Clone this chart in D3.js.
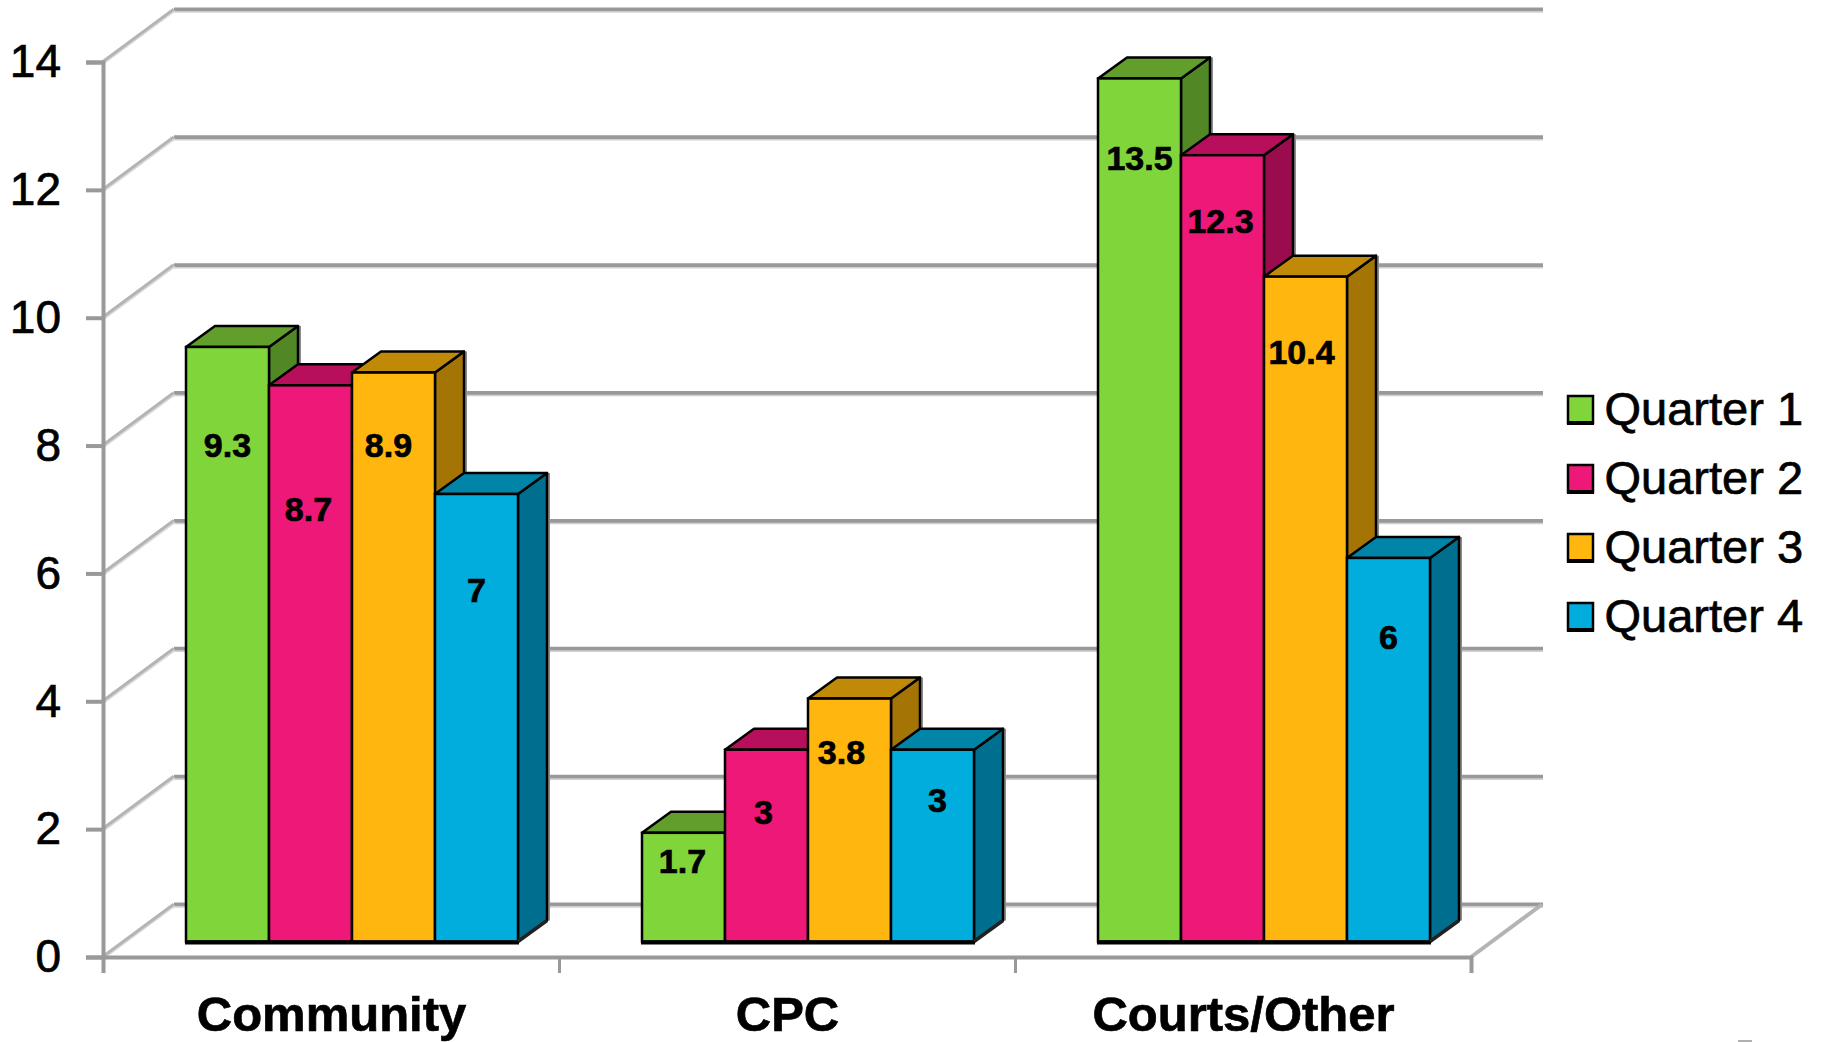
<!DOCTYPE html>
<html><head><meta charset="utf-8">
<script src="https://cdn.jsdelivr.net/npm/d3@7/dist/d3.min.js"></script>
<style>html,body{margin:0;padding:0;background:#fff;overflow:hidden}svg{display:block}
text{font-family:"Liberation Sans",Arial,sans-serif;fill:#000;stroke:#000;stroke-width:0.7px}</style></head>
<body><svg id="c" width="1822" height="1042"></svg>
<script>
const categories = ["Community", "CPC", "Courts/Other"];
const seriesNames = ["Quarter 1", "Quarter 2", "Quarter 3", "Quarter 4"];
const quarter1 = [9.3, 1.7, 13.5];
const quarter2 = [8.7, 3, 12.3];
const quarter3 = [8.9, 3.8, 10.4];
const quarter4 = [7, 3, 6];
const seriesValues = [quarter1, quarter2, quarter3, quarter4];
const yTicks = [0, 2, 4, 6, 8, 10, 12, 14];

const frontColors = ["#80D53B", "#ED1877", "#FFB70F", "#00ADDC"];
const topColors = ["#619E2C", "#B80F5C", "#C08A08", "#0085A8"];
const sideColors = ["#518825", "#9A0C4D", "#A47404", "#006E8E"];
// label placement below each bar's top, as in the picture (per series, per category)
const labelDrop = [[99, 29, 81], [125, 63, 67], [73, 54, 76], [97, 51, 80]];
const labelShift = [[0, -1, 0], [-2, -3, -2], [-5, -8, -4], [0, 5, 0]];

const svg = d3.select("#c");
const GRID = "#999999";
const wall = {dx: 71, dy: -52.5};
const bar3d = {dx: 29, dy: -21};
const floorLift = 15.5;

const y = d3.scaleLinear().domain([0, 14]).range([957, 62]);
const xEdge = d3.scaleLinear().domain([0, 3]).range([103, 1471]);
const x0 = d3.scaleBand().domain(categories).range([103, 1471]);
const x1 = d3.scaleBand().domain(seriesNames).range([62, 62 + 332]);
const barBase = y(0) - floorLift;
const hOf = v => y(0) - y(v);
const barShift = 21;

// back wall gridlines and side-wall diagonals
const grid = svg.append("g");
grid.selectAll("line.back").data(yTicks).join("line").attr("class", "back")
  .attr("x1", 103 + wall.dx).attr("x2", 1472 + wall.dx)
  .attr("y1", d => y(d) + wall.dy).attr("y2", d => y(d) + wall.dy)
  .attr("stroke", GRID).attr("stroke-width", 4);
grid.selectAll("line.backsh").data(yTicks).join("line").attr("class", "backsh")
  .attr("x1", 103 + wall.dx).attr("x2", 1472 + wall.dx)
  .attr("y1", d => y(d) + wall.dy + 2.5).attr("y2", d => y(d) + wall.dy + 2.5)
  .attr("stroke", "#d0d0d0").attr("stroke-width", 1.5);
grid.selectAll("line.diag").data(yTicks).join("line").attr("class", "diag")
  .attr("x1", 103).attr("x2", 103 + wall.dx)
  .attr("y1", d => y(d)).attr("y2", d => y(d) + wall.dy)
  .attr("stroke", "#b4b4b4").attr("stroke-width", 4);
grid.selectAll("line.diag2").data(yTicks).join("line").attr("class", "diag2")
  .attr("x1", 104).attr("x2", 104 + wall.dx)
  .attr("y1", d => y(d) + 1.5).attr("y2", d => y(d) + wall.dy + 1.5)
  .attr("stroke", "#dcdcdc").attr("stroke-width", 1.5);
grid.append("line")
  .attr("x1", xEdge(3)).attr("x2", xEdge(3) + wall.dx)
  .attr("y1", y(0)).attr("y2", y(0) + wall.dy)
  .attr("stroke", "#b4b4b4").attr("stroke-width", 4);

// axes
const yAxis = svg.append("g").attr("transform", "translate(103,0)")
  .call(d3.axisLeft(y).tickValues(yTicks).tickSize(17).tickPadding(25).tickFormat(d3.format("d")));
yAxis.selectAll("path").attr("stroke", GRID).attr("stroke-width", 4);
yAxis.selectAll("line").attr("stroke", GRID).attr("stroke-width", 4);
yAxis.selectAll("text").attr("font-size", 46).attr("font-family", "Liberation Sans").attr("fill", "#000");

const xAxis = svg.append("g").attr("transform", `translate(0,${y(0)})`)
  .call(d3.axisBottom(xEdge).tickValues([0, 1, 2, 3]).tickSize(16).tickFormat(""));
xAxis.selectAll("path").attr("stroke", GRID).attr("stroke-width", 4);
xAxis.selectAll("line").attr("stroke", GRID).attr("stroke-width", 3);

svg.append("g").selectAll("text").data(categories).join("text")
  .attr("x", d => x0(d) + x0.bandwidth() / 2 + 0.5).attr("y", 1031)
  .attr("text-anchor", "middle").attr("font-size", 49).attr("font-weight", "bold")
  .text(d => d);

// bars
const poly = pts => pts.map(p => p.join(",")).join(" ");
categories.forEach((cat, ci) => {
  const g = svg.append("g");
  seriesNames.forEach((s, si) => {
    const v = seriesValues[si][ci];
    const L = x0(cat) + x1(s) + barShift, R = L + x1.bandwidth();
    const T = barBase - hOf(v), B = barBase;
    const add = (pts, fill) => g.append("polygon").attr("points", poly(pts)).attr("fill", fill)
      .attr("stroke", "#000").attr("stroke-width", 2.5).attr("stroke-linejoin", "round");
    // soft grey shadow along the far edge of the side face
    g.append("line").attr("x1", R + bar3d.dx + 2).attr("x2", R + bar3d.dx + 2)
      .attr("y1", T + bar3d.dy).attr("y2", B + bar3d.dy)
      .attr("stroke", "#8c8c8c").attr("stroke-width", 2);
    add([[R, T], [R + bar3d.dx, T + bar3d.dy], [R + bar3d.dx, B + bar3d.dy], [R, B]], sideColors[si]);
    add([[L, T], [L + bar3d.dx, T + bar3d.dy], [R + bar3d.dx, T + bar3d.dy], [R, T]], topColors[si]);
    g.append("rect").attr("x", L).attr("y", T).attr("width", R - L).attr("height", B - T)
      .attr("fill", frontColors[si]).attr("stroke", "#000").attr("stroke-width", 2.5);
  });
  const bl = x0(cat) + x1(seriesNames[0]) + barShift;
  const br = bl + x1.bandwidth() * 4;
  g.append("line").attr("x1", bl - 1).attr("x2", br + 1)
    .attr("y1", barBase + 1).attr("y2", barBase + 1).attr("stroke", "#000").attr("stroke-width", 4);
  g.append("line").attr("x1", br).attr("x2", br + bar3d.dx)
    .attr("y1", barBase).attr("y2", barBase + bar3d.dy).attr("stroke", "#222").attr("stroke-width", 3.5);
  seriesNames.forEach((s, si) => {
    const v = seriesValues[si][ci];
    g.append("text")
      .attr("x", x0(cat) + x1(s) + barShift + x1.bandwidth() / 2 + labelShift[si][ci])
      .attr("y", barBase - hOf(v) + labelDrop[si][ci] + 11)
      .attr("text-anchor", "middle").attr("font-size", 34).attr("font-weight", "bold")
      .text(v);
  });
});

// legend
const legendY = d3.scalePoint().domain(seriesNames).range([396, 396 + 69 * 3]);
const lg = svg.append("g");
seriesNames.forEach((s, i) => {
  lg.append("rect").attr("x", 1568).attr("y", legendY(s)).attr("width", 25).attr("height", 27)
    .attr("fill", frontColors[i]).attr("stroke", "#000").attr("stroke-width", 2.5);
  lg.append("line").attr("x1", 1567).attr("x2", 1594).attr("y1", legendY(s) + 27).attr("y2", legendY(s) + 27)
    .attr("stroke", "#000").attr("stroke-width", 4);
  lg.append("text").attr("x", 1604.5).attr("y", legendY(s) + 29).attr("font-size", 47).text(s);
});

// small grey fragment at the lower edge of the picture
svg.append("rect").attr("x", 1738).attr("y", 1040).attr("width", 14).attr("height", 2).attr("fill", "#b0b0b0");
</script></body></html>
